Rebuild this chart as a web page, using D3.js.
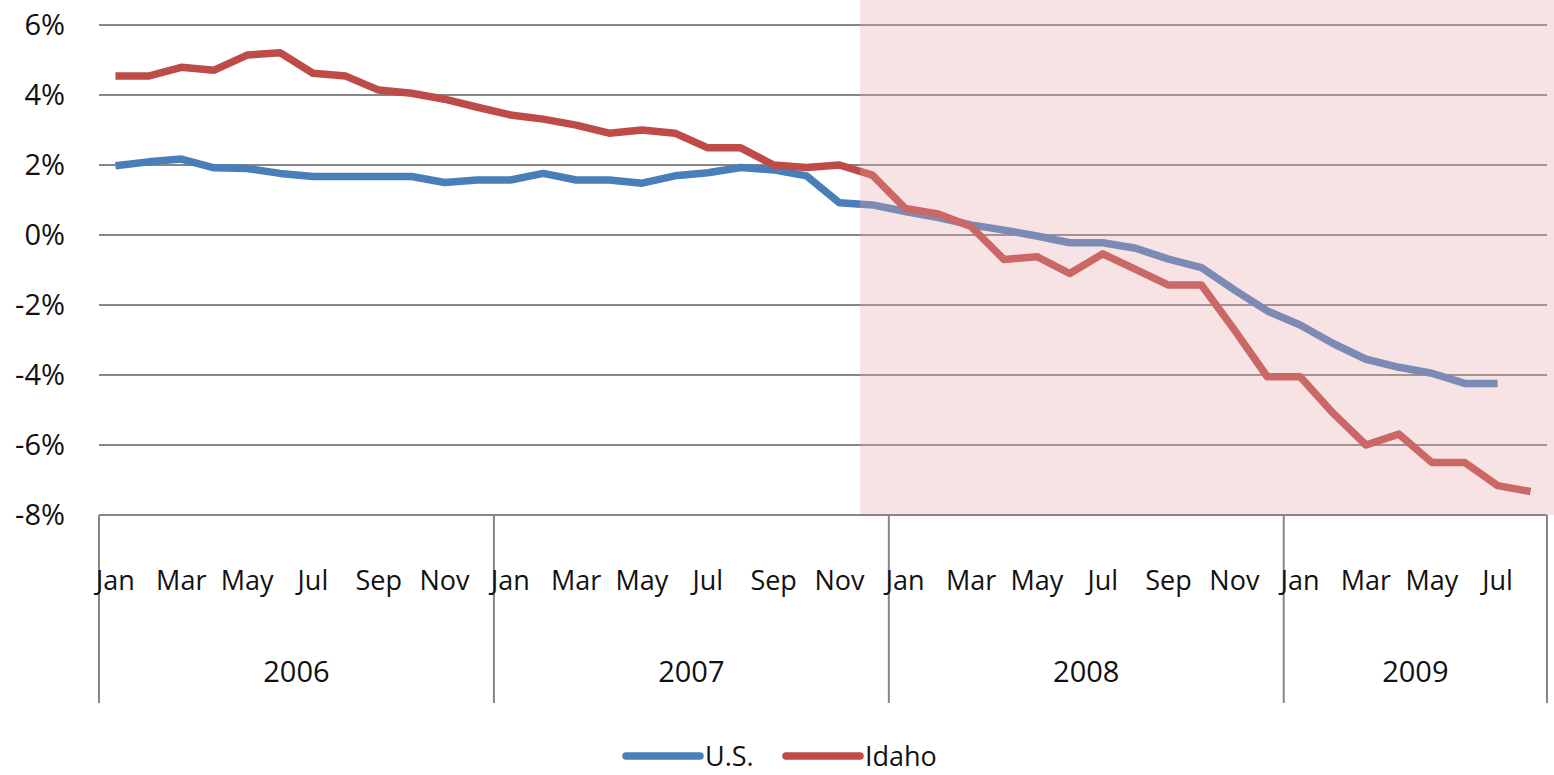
<!DOCTYPE html>
<html>
<head>
<meta charset="utf-8">
<script src="https://cdn.jsdelivr.net/npm/d3@7"></script>
<style>
  body { margin: 0; background: #fff; }
  svg text { font-family: "Open Sans", sans-serif; fill: #111; }
</style>
</head>
<body>
<svg id="chart"></svg>
<script>
// year-over-year change, Jan 2006 - Aug 2009
const years = ["2006", "2007", "2008", "2009"];
const monthsPerYear = [12, 12, 12, 8];
const monthNames = ["Jan", "Feb", "Mar", "Apr", "May", "Jun", "Jul", "Aug", "Sep", "Oct", "Nov", "Dec"];
const yTicks = [-8, -6, -4, -2, 0, 2, 4, 6];

const usValues = [
  1.98, 2.09, 2.17, 1.92, 1.90, 1.76, 1.67, 1.67, 1.67, 1.67, 1.50, 1.57,
  1.57, 1.76, 1.57, 1.57, 1.48, 1.69, 1.78, 1.93, 1.86, 1.69, 0.92, 0.86,
  0.67, 0.50, 0.29, 0.14, -0.03, -0.22, -0.22, -0.38, -0.69, -0.93, -1.57, -2.17,
  -2.57, -3.10, -3.55, -3.78, -3.95, -4.24, -4.24
];
const idahoValues = [
  4.54, 4.54, 4.79, 4.71, 5.14, 5.21, 4.62, 4.54, 4.14, 4.05, 3.88, 3.65,
  3.43, 3.31, 3.14, 2.91, 3.00, 2.91, 2.49, 2.49, 2.00, 1.93, 2.00, 1.71,
  0.76, 0.60, 0.24, -0.70, -0.62, -1.10, -0.54, -0.98, -1.43, -1.43, -2.71, -4.05,
  -4.05, -5.09, -6.00, -5.69, -6.50, -6.50, -7.16, -7.33
];
const recessionStart = "2007-Dec";

const categories = [];
years.forEach((yr, i) => {
  for (let m = 0; m < monthsPerYear[i]; m++) {
    categories.push({ key: `${yr}-${monthNames[m]}`, year: yr, month: monthNames[m], m });
  }
});

const W = 1554, H = 775;
const margin = { top: 25, right: 7, left: 99, bottom: 260 };
const plotBottom = H - margin.bottom;

const svg = d3.select("#chart").attr("width", W).attr("height", H);

const x = d3.scaleBand()
  .domain(categories.map((d) => d.key))
  .range([margin.left, W - margin.right])
  .padding(0);

const y = d3.scaleLinear().domain([-8, 6]).range([plotBottom, margin.top]);

const cx = (key) => x(key) + x.bandwidth() / 2;

// gridlines
svg.append("g")
  .selectAll("line")
  .data(yTicks.filter((t) => t > -8))
  .join("line")
  .attr("x1", x.range()[0])
  .attr("x2", x.range()[1])
  .attr("y1", (d) => y(d))
  .attr("y2", (d) => y(d))
  .attr("stroke", "#868686")
  .attr("stroke-width", 2);

// y labels
svg.append("g")
  .selectAll("text")
  .data(yTicks)
  .join("text")
  .attr("x", 65)
  .attr("y", (d) => y(d))
  .attr("dy", "0.36em")
  .attr("text-anchor", "end")
  .attr("font-size", 29)
  .text((d) => `${d}%`);

// lines
const line = d3.line()
  .x((d, i) => cx(categories[i].key))
  .y((d) => y(d));

svg.append("path")
  .datum(usValues)
  .attr("d", line)
  .attr("fill", "none")
  .attr("stroke", "#4a7ebb")
  .attr("stroke-width", 7.5)
  .attr("stroke-linejoin", "round");

svg.append("path")
  .datum(idahoValues)
  .attr("d", line)
  .attr("fill", "none")
  .attr("stroke", "#be4b48")
  .attr("stroke-width", 7.5)
  .attr("stroke-linejoin", "round");

// recession shading (drawn on top, like the original)
svg.append("rect")
  .attr("x", x(recessionStart) + 4)
  .attr("y", 0)
  .attr("width", W - x(recessionStart) - 4)
  .attr("height", plotBottom)
  .attr("fill", "#e6a8a8")
  .attr("fill-opacity", 0.32);

// category axis
const axisG = svg.append("g");
axisG.append("line")
  .attr("x1", x.range()[0])
  .attr("x2", x.range()[1])
  .attr("y1", plotBottom)
  .attr("y2", plotBottom)
  .attr("stroke", "#868686")
  .attr("stroke-width", 2);

const yearEdges = years.map((yr) => x(`${yr}-Jan`)).concat([x.range()[1]]);
axisG.selectAll(".sep")
  .data(yearEdges)
  .join("line")
  .attr("class", "sep")
  .attr("x1", (d) => d)
  .attr("x2", (d) => d)
  .attr("y1", plotBottom)
  .attr("y2", 703)
  .attr("stroke", "#868686")
  .attr("stroke-width", 2);

axisG.selectAll(".mlabel")
  .data(categories.filter((d) => d.m % 2 === 0))
  .join("text")
  .attr("class", "mlabel")
  .attr("x", (d) => cx(d.key))
  .attr("y", 590)
  .attr("text-anchor", "middle")
  .attr("font-size", 27)
  .text((d) => d.month);

axisG.selectAll(".ylabel")
  .data(years)
  .join("text")
  .attr("class", "ylabel")
  .attr("x", (d, i) => (yearEdges[i] + yearEdges[i + 1]) / 2)
  .attr("y", 682)
  .attr("text-anchor", "middle")
  .attr("font-size", 29)
  .text((d) => d);

// legend
const legend = svg.append("g");
const legendItems = [
  { name: "U.S.", color: "#4a7ebb", x0: 626 },
  { name: "Idaho", color: "#be4b48", x0: 786 }
];
legendItems.forEach((it) => {
  legend.append("line")
    .attr("x1", it.x0)
    .attr("x2", it.x0 + 74)
    .attr("y1", 756)
    .attr("y2", 756)
    .attr("stroke", it.color)
    .attr("stroke-width", 7.5)
    .attr("stroke-linecap", "round");
  legend.append("text")
    .attr("x", it.x0 + 79)
    .attr("y", 756)
    .attr("dy", "0.36em")
    .attr("font-size", 27)
    .text(it.name);
});
</script>
</body>
</html>
